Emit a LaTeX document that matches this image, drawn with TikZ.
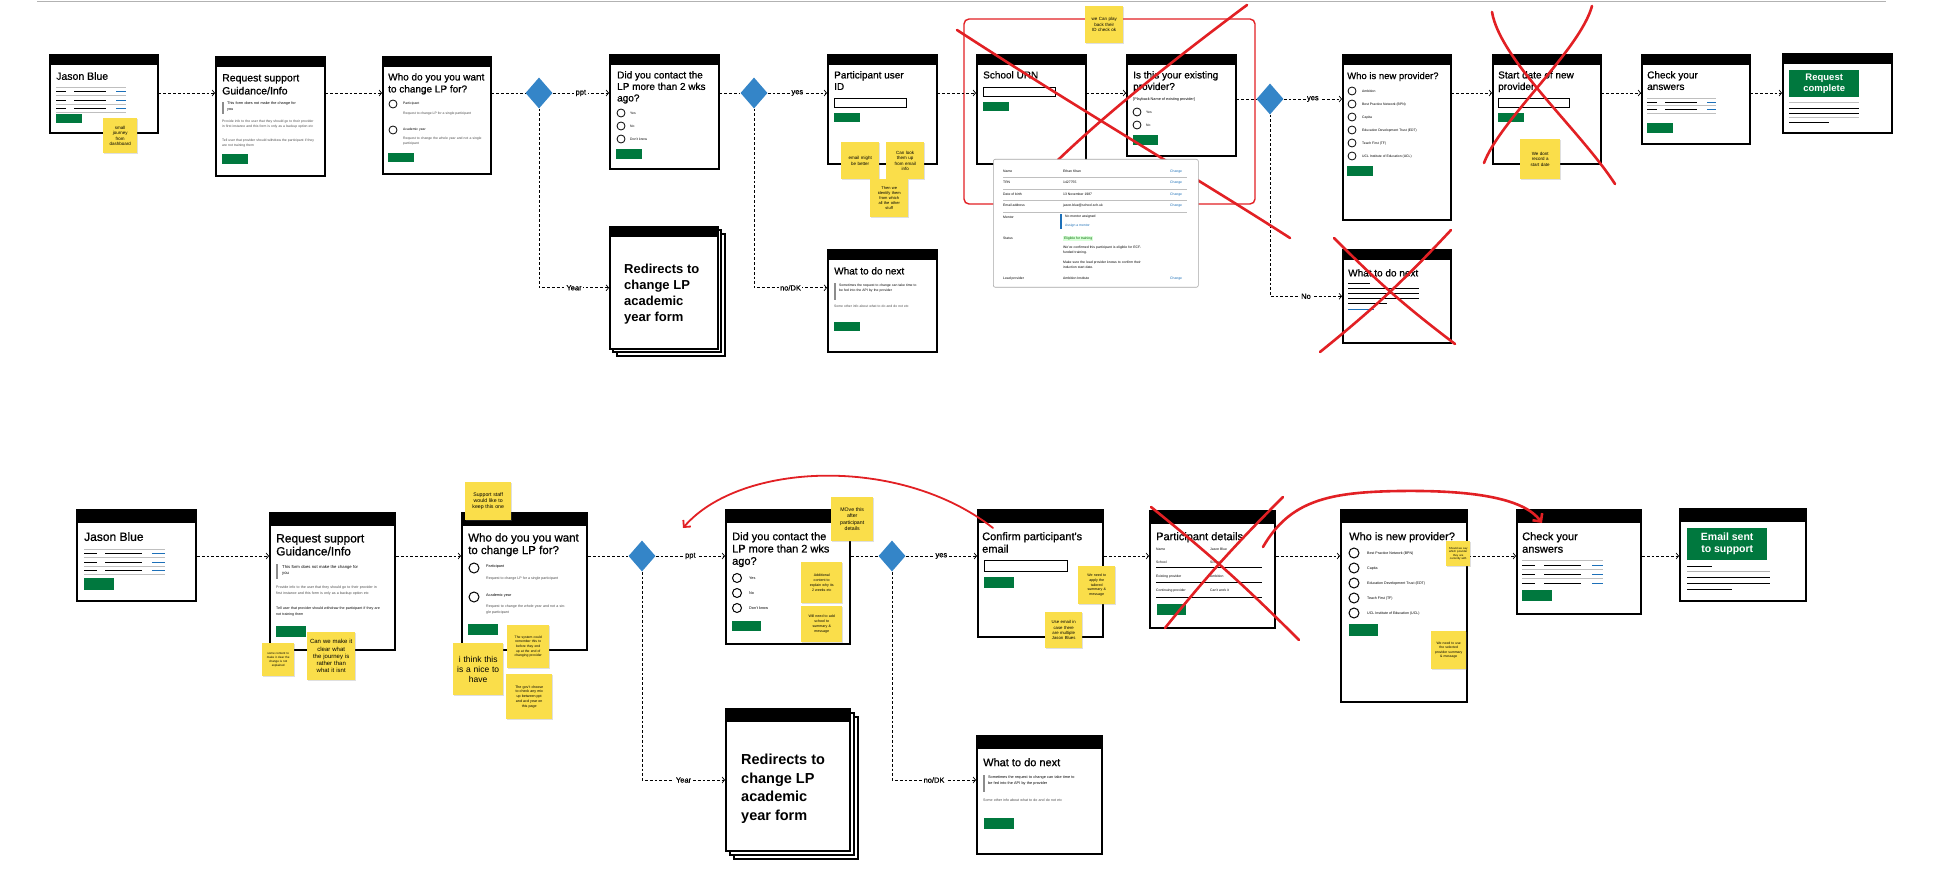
\documentclass[tikz,border=0pt]{standalone}
\usepackage{fontspec}
\setmainfont{Liberation Sans}
\newfontfamily\medfont{Liberation Sans}[FakeBold=0.8]
\usetikzlibrary{positioning,arrows.meta,shapes.geometric,shadows}

\definecolor{govgreen}{RGB}{0,120,62}
\definecolor{flowblue}{RGB}{52,133,200}
\definecolor{penred}{RGB}{226,32,36}
\definecolor{notey}{RGB}{250,222,74}
\definecolor{linkblue}{RGB}{29,112,184}

\begin{document}
\begin{tikzpicture}[
            x=1pt, y=-1pt,
            screen/.style={draw, line width=1.6pt, fill=white, anchor=north west, inner sep=0pt},
            heading/.style={anchor=north west, inner sep=0pt, align=left, font=\medfont\fontsize{10}{11.5}\selectfont},
            bighead/.style={heading, font=\medfont\fontsize{11.5}{12.5}\selectfont},
            fine/.style={anchor=north west, inner sep=0pt, align=left, text=black!70, font=\fontsize{3.4}{5}\selectfont},
            button/.style={fill=govgreen},
            choice/.style={line width=0.8pt},
            decision/.style={diamond, fill=flowblue, minimum width=27pt, minimum height=31pt, inner sep=0pt},
            sticky/.style={fill=notey, anchor=north west, inner sep=1pt, align=center,
                font=\fontsize{4}{5}\selectfont,
                drop shadow={opacity=0.25, shadow xshift=0.6pt, shadow yshift=-0.8pt}},
            route/.style={line width=0.7pt, dash pattern=on 2.8pt off 2pt, -{Straight Barb[length=2.5pt, width=6pt]}},
            tag/.style={fill=white, inner sep=1.5pt, font=\medfont\fontsize{7.5}{8}\selectfont},
            strike/.style={penred, line width=2.6pt, line cap=round}
        ]
        \fill[white] (0,0) rectangle (1933,893);
        \useasboundingbox (0,0) rectangle (1933,893);
        \draw[black!30, line width=0.8pt] (37,1) -- (1886,1);

        % Top flow: screens
        \node[screen, minimum width=108pt, minimum height=78pt] (jb1) at (49,54) {};
        \node[screen, minimum width=109pt, minimum height=119pt] (rs1) at (215,56) {};
        \node[screen, minimum width=108pt, minimum height=117pt] (wd1) at (382,56) {};
        \node[screen, minimum width=109pt, minimum height=114pt] (dc1) at (609,54) {};
        \foreach \d in {8,4}
            \filldraw[fill=white, line width=1.4pt] (609+\d,226+\d) rectangle ++(108,122);
        \node[screen, minimum width=108pt, minimum height=122pt] (rd1) at (609,226) {};
        \node[screen, minimum width=109pt, minimum height=109pt] (pu1) at (827,54) {};
        \node[screen, minimum width=109pt, minimum height=102pt] (wn1) at (827,249) {};
        \draw[penred, line width=1.4pt, rounded corners=5pt] (964,19) rectangle (1255,204);
        \node[screen, minimum width=109pt, minimum height=109pt] (su1) at (976,54) {};
        \node[screen, minimum width=109pt, minimum height=101pt] (ex1) at (1126,54) {};
        \node[screen, minimum width=108pt, minimum height=165pt] (np1) at (1342,54) {};
        \node[screen, minimum width=108pt, minimum height=93pt] (wx1) at (1342,249) {};
        \node[screen, minimum width=108pt, minimum height=109pt] (sd1) at (1492,54) {};
        \node[screen, minimum width=108pt, minimum height=89pt] (ca1) at (1641,54) {};
        \node[screen, minimum width=109pt, minimum height=79pt] (rc1) at (1782,53) {};

        % Bottom flow: screens
        \node[screen, line width=2pt, minimum width=119pt, minimum height=91pt] (jb2) at (76,509) {};
        \node[screen, line width=2pt, minimum width=125pt, minimum height=137pt] (rs2) at (269,512) {};
        \node[screen, line width=2pt, minimum width=125pt, minimum height=137pt] (wd2) at (461,512) {};
        \node[screen, line width=2pt, minimum width=124pt, minimum height=134pt] (dc2) at (725,509) {};
        \foreach \d in {9,5}
            \filldraw[fill=white, line width=1.6pt] (725+\d,708+\d) rectangle ++(124,142);
        \node[screen, line width=2pt, minimum width=124pt, minimum height=142pt] (rd2) at (725,708) {};
        \node[screen, line width=2pt, minimum width=125pt, minimum height=127pt] (ce2) at (977,509) {};
        \node[screen, line width=2pt, minimum width=125pt, minimum height=118pt] (wn2) at (976,735) {};
        \node[screen, line width=2pt, minimum width=125pt, minimum height=117pt] (pd2) at (1149,510) {};
        \node[screen, line width=2pt, minimum width=126pt, minimum height=192pt] (np2) at (1340,509) {};
        \node[screen, line width=2pt, minimum width=124pt, minimum height=104pt] (ca2) at (1516,509) {};
        \node[screen, line width=2pt, minimum width=126pt, minimum height=92pt] (es2) at (1679,508) {};

        % Header bars
        \foreach \n in {jb1,rs1,wd1,dc1,rd1,pu1,wn1,su1,ex1,np1,wx1,sd1,ca1,rc1}
            \fill (\n.north west) rectangle ([yshift=-11pt]\n.north east);
        \foreach \n in {jb2,rs2,wd2,dc2,rd2,ce2,wn2,pd2,np2,ca2,es2}
            \fill (\n.north west) rectangle ([yshift=-14pt]\n.north east);

        % Top flow: contents
        \node[heading, font=\medfont\fontsize{10.5}{12}\selectfont] (jb1t) at (56,72) {Jason Blue};
        \foreach \y in {91,100,108} {
            \draw[line width=0.9pt] (56,\y) -- (66,\y) (74,\y) -- (106,\y);
            \draw[linkblue, line width=0.9pt] (116,\y) -- (126,\y);
        }
        \foreach \y in {87,95,104,112} \draw[black!25, line width=0.5pt] (56,\y) -- (126,\y);
        \fill[button] (56,114) rectangle (82,123);

        \node[heading, font=\medfont\fontsize{10.5}{13}\selectfont] (rs1t) at (222,74) {Request support\\Guidance/Info};
        \fill[black!45] (222,102) rectangle (224,114);
        \node[fine, text width=70pt, font=\fontsize{3.8}{5.5}\selectfont, text=black] (rs1i) at (227,102) {This form does not make the change for you};
        \node[fine, text width=92pt] (rs1p) at (222,120) {Provide info to the user that they should go to their provider in first instance and this form is only as a backup option etc};
        \node[fine, text width=92pt] (rs1q) at (222,139) {Tell user that provider should withdraw the participant if they are not training them};
        \fill[button] (222,154) rectangle (248,164);

        \node[heading, font=\medfont\fontsize{10}{12}\selectfont] (wd1t) at (388,73) {Who do you you want\\to change LP for?};
        \foreach \y in {104,130} \draw[choice] (393,\y) circle (4pt);
        \node[fine, text=black] (wd1a) at (403,102) {Participant};
        \node[fine] (wd1b) at (403,112) {Request to change LP for a single participant};
        \node[fine, text=black] (wd1c) at (403,128) {Academic year};
        \node[fine, text width=80pt] (wd1d) at (403,137) {Request to change the whole year and not a single participant};
        \fill[button] (388,153) rectangle (414,162);

        \node[heading] (dc1t) at (617,71) {Did you contact the\\LP more than 2 wks\\ago?};
        \foreach \y/\opt in {113/Yes,126/No,139/Don't know} {
            \draw[choice] (621,\y) circle (4pt);
            \node[fine, text=black] (dc1\y) at (630,\y-1.5) {\opt};
        }
        \fill[button] (616,149) rectangle (642,159);

        \node[heading, font=\bfseries\fontsize{13}{16}\selectfont] (rd1t) at (624,264) {Redirects to\\change LP\\academic\\year form};

        \node[heading] (pu1t) at (834,71) {Participant user\\ID};
        \draw[line width=0.8pt] (834,98) rectangle (906,107);
        \fill[button] (834,113) rectangle (860,122);

        \node[heading] (wn1t) at (834,267) {What to do next};
        \fill[black!45] (834,283) rectangle (836,300);
        \node[fine, text width=80pt, text=black] (wn1i) at (839,284) {Sometimes the request to change can take time to be fed into the API by the provider};
        \node[fine, text width=95pt] (wn1p) at (834,305) {Some other info about what to do and do not etc};
        \fill[button] (834,322) rectangle (860,331);

        \node[heading] (su1t) at (983,71) {School URN};
        \draw[line width=0.8pt] (983,87) rectangle (1055,96);
        \fill[button] (983,102) rectangle (1009,111);

        \node[heading] (ex1t) at (1133,71) {Is this your existing\\provider?};
        \node[fine, text=black, font=\fontsize{3.8}{5}\selectfont] (ex1p) at (1133,98) {[Playback Name of existing provider]};
        \foreach \y/\opt in {112/Yes,125/No} {
            \draw[choice] (1137,\y) circle (4pt);
            \node[fine, text=black] (ex1\y) at (1146,\y-1.5) {\opt};
        }
        \fill[button] (1133,135) rectangle (1158,145);

        \node[heading, font=\medfont\fontsize{9.5}{11}\selectfont] (np1t) at (1347,72) {Who is new provider?};
        \foreach \y/\lp in {91/Ambition,104/{Best Practice Network (BPN)},117/Capita,130/{Education Development Trust (EDT)},143/{Teach First (TF)},156/{UCL Institute of Education (UCL)}} {
            \draw[choice] (1352,\y) circle (4pt);
            \node[fine, text=black] (np1\y) at (1362,\y-1.5) {\lp};
        }
        \fill[button] (1347,166) rectangle (1373,176);

        \node[heading] (wx1t) at (1348,269) {What to do next};
        \draw[line width=0.7pt] (1348,283) -- (1370,283);
        \foreach \y in {288,293,298} \draw[line width=0.7pt] (1348,\y) -- (1419,\y);
        \draw[line width=0.7pt] (1348,303) -- (1387,303);
        \draw[linkblue, line width=0.7pt] (1348,309) -- (1374,309);

        \node[heading] (sd1t) at (1498,71) {Start date of new\\provider};
        \draw[line width=0.8pt] (1498,98) rectangle (1569,107);
        \fill[button] (1498,113) rectangle (1524,122);

        \node[heading] (ca1t) at (1647,71) {Check your\\answers};
        \foreach \y in {98,105.5,113} \draw[black!25, line width=0.5pt] (1647,\y) -- (1716,\y);
        \foreach \y in {102,109} {
            \draw[line width=0.9pt] (1647,\y) -- (1657,\y) (1665,\y) -- (1697,\y);
            \draw[linkblue, line width=0.9pt] (1707,\y) -- (1716,\y);
        }
        \fill[button] (1647,123) rectangle (1673,133);

        \node[fill=govgreen, anchor=north west, minimum width=70pt, minimum height=27pt, inner sep=0pt, align=center,
            text=white, font=\bfseries\fontsize{9.5}{11}\selectfont] (rc1g) at (1789,70) {Request\\complete};
        \draw[black!25, line width=0.5pt] (1789,102) -- (1859,102) (1789,117) -- (1859,117);
        \draw[line width=0.8pt] (1789,108) -- (1859,108) (1789,113) -- (1859,113) (1789,122) -- (1829,122);

        % Bottom flow: contents
        \node[heading, font=\medfont\fontsize{12}{13}\selectfont] (jb2t) at (84,532) {Jason Blue};
        \foreach \y in {553,562,570} {
            \draw[line width=0.9pt] (84,\y) -- (97,\y) (105,\y) -- (142,\y);
            \draw[linkblue, line width=0.9pt] (152,\y) -- (165,\y);
        }
        \foreach \y in {549,557,566,574} \draw[black!25, line width=0.5pt] (84,\y) -- (165,\y);
        \fill[button] (84,578) rectangle (114,590);

        \node[bighead, font=\medfont\fontsize{12}{13}\selectfont] (rs2t) at (276,534) {Request support\\Guidance/Info};
        \fill[black!45] (276,564) rectangle (278,579);
        \node[fine, text width=80pt, font=\fontsize{4.2}{6}\selectfont, text=black] (rs2i) at (282,565) {This form does not make the change for you};
        \node[fine, text width=104pt, font=\fontsize{3.6}{5.4}\selectfont] (rs2p) at (276,586) {Provide info to the user that they should go to their provider in first instance and this form is only as a backup option etc};
        \node[fine, text width=104pt, font=\fontsize{3.6}{5.4}\selectfont, text=black] (rs2q) at (276,607) {Tell user that provider should withdraw the participant if they are not training them};
        \fill[button] (276,626) rectangle (306,637);

        \node[bighead] (wd2t) at (468,533) {Who do you you want\\to change LP for?};
        \foreach \y in {568,597} \draw[choice, line width=1pt] (474,\y) circle (5pt);
        \node[fine, text=black, font=\fontsize{3.8}{5}\selectfont] (wd2a) at (486,565) {Participant};
        \node[fine, font=\fontsize{3.6}{5}\selectfont] (wd2b) at (486,577) {Request to change LP for a single participant};
        \node[fine, text=black, font=\fontsize{3.8}{5}\selectfont] (wd2c) at (486,594) {Academic year};
        \node[fine, text width=82pt, font=\fontsize{3.6}{5.4}\selectfont] (wd2d) at (486,605) {Request to change the whole year and not a single participant};
        \fill[button] (468,624) rectangle (498,635);

        \node[bighead, font=\medfont\fontsize{11}{12.3}\selectfont] (dc2t) at (732,532) {Did you contact the\\LP more than 2 wks\\ago?};
        \foreach \y/\opt in {578/Yes,593/No,608/Don't know} {
            \draw[choice, line width=1pt] (737,\y) circle (4.5pt);
            \node[fine, text=black, font=\fontsize{3.8}{5}\selectfont] (dc2\y) at (749,\y-1.5) {\opt};
        }
        \fill[button] (732,621) rectangle (761,631);

        \node[heading, font=\bfseries\fontsize{14.5}{18.5}\selectfont] (rd2t) at (741,754) {Redirects to\\change LP\\academic\\year form};

        \node[bighead, font=\medfont\fontsize{11}{12.5}\selectfont] (ce2t) at (982,532) {Confirm participant's\\email};
        \draw[line width=1pt] (984,560) rectangle (1067,571);
        \fill[button] (984,577) rectangle (1014,588);

        \node[bighead, font=\medfont\fontsize{11}{12.5}\selectfont] (wn2t) at (983,758) {What to do next};
        \fill[black!45] (983,775) rectangle (985,792);
        \node[fine, text width=90pt, font=\fontsize{3.8}{5.5}\selectfont, text=black] (wn2i) at (988,776) {Sometimes the request to change can take time to be fed into the API by the provider};
        \node[fine, text width=105pt, font=\fontsize{3.6}{5.2}\selectfont] (wn2p) at (983,799) {Some other info about what to do and do not etc};
        \fill[button] (984,818) rectangle (1014,829);

        \node[bighead, font=\medfont\fontsize{11}{12.5}\selectfont] (pd2t) at (1156,532) {Participant details};
        \foreach \y/\k/\v in {548/Name/Jason Blue,561/School/School,575/Existing provider/Ambition,589/Continuing provider/Can't work it} {
            \node[fine, text=black] (pd2k\y) at (1156,\y) {\k};
            \node[fine, text=black] (pd2v\y) at (1210,\y) {\v};
        }
        \foreach \y in {567,582,597} \draw[line width=0.8pt] (1156,\y) -- (1262,\y);
        \fill[button] (1157,604) rectangle (1186,615);

        \node[bighead, font=\medfont\fontsize{11}{12.5}\selectfont] (np2t) at (1349,532) {Who is new provider?};
        \foreach \y/\lp in {553/{Best Practice Network (BPN)},568/Capita,583/{Education Development Trust (EDT)},598/{Teach First (TF)},613/{UCL Institute of Education (UCL)}} {
            \draw[choice, line width=1pt] (1354,\y) circle (5pt);
            \node[fine, text=black, font=\fontsize{3.6}{5}\selectfont] (np2\y) at (1367,\y-1.5) {\lp};
        }
        \fill[button] (1349,624) rectangle (1378,636);

        \node[bighead, font=\medfont\fontsize{11}{12.5}\selectfont] (ca2t) at (1522,532) {Check your\\answers};
        \foreach \y in {560,569,578} \draw[black!25, line width=0.6pt] (1522,\y) -- (1603,\y);
        \foreach \y in {565,574,583} {
            \draw[line width=1pt] (1522,\y) -- (1535,\y) (1544,\y) -- (1581,\y);
            \draw[linkblue, line width=1pt] (1592,\y) -- (1603,\y);
        }
        \fill[button] (1522,590) rectangle (1552,601);

        \node[fill=govgreen, anchor=north west, minimum width=80pt, minimum height=32pt, inner sep=0pt, align=center,
            text=white, font=\bfseries\fontsize{10.5}{12}\selectfont] (es2g) at (1687,528) {Email sent\\to support};
        \draw[line width=0.8pt] (1687,566) -- (1712,566) (1687,577) -- (1770,577) (1687,583) -- (1770,583) (1687,589) -- (1732,589);
        \draw[black!30, line width=0.6pt] (1687,571) -- (1770,571);

        % Decisions
        \node[decision] (d1) at (539,93) {};
        \node[decision] (d2) at (754,93) {};
        \node[decision] (d3) at (1270,99) {};
        \node[decision] (d4) at (642,556) {};
        \node[decision] (d5) at (892,556) {};

        % Connectors, top flow
        \coordinate (row1) at (0,93);
        \coordinate (row2) at (0,556);
        \draw[route] (jb1.east |- row1) -- (rs1.west |- row1);
        \draw[route] (rs1.east |- row1) -- (wd1.west |- row1);
        \draw[route, -] (wd1.east |- row1) -- (d1);
        \draw[route] (d1) -- node[tag]{ppt} (dc1.west |- row1);
        \draw[route, -] (dc1.east |- row1) -- (d2);
        \draw[route] (d2) -- node[tag]{yes} (pu1.west |- row1);
        \draw[route] (pu1.east |- row1) -- (su1.west |- row1);
        \draw[route] (su1.east |- row1) -- (ex1.west |- row1);
        \draw[route, -] (ex1.east |- d3) -- (d3);
        \draw[route] (d3) -- node[tag]{yes} (np1.west |- d3);
        \draw[route] (np1.east |- row1) -- (sd1.west |- row1);
        \draw[route] (sd1.east |- row1) -- (ca1.west |- row1);
        \draw[route] (ca1.east |- row1) -- (rc1.west |- row1);
        \draw[route] (d1) |- node[tag, pos=0.75]{Year} (rd1);
        \draw[route] (d2) |- node[tag, pos=0.75]{no/DK} (wn1.west |- rd1);
        \draw[route] (d3) |- node[tag, pos=0.75]{No} (wx1);

        % Connectors, bottom flow
        \draw[route] (jb2.east |- row2) -- (rs2.west |- row2);
        \draw[route] (rs2.east |- row2) -- (wd2.west |- row2);
        \draw[route, -] (wd2.east |- row2) -- (d4);
        \draw[route] (d4) -- node[tag]{ppt} (dc2.west |- row2);
        \draw[route, -] (dc2.east |- row2) -- (d5);
        \draw[route] (d5) -- node[tag]{yes} (ce2.west |- row2);
        \draw[route] (ce2.east |- row2) -- (pd2.west |- row2);
        \draw[route] (pd2.east |- row2) -- (np2.west |- row2);
        \draw[route] (np2.east |- row2) -- (ca2.west |- row2);
        \draw[route] (ca2.east |- row2) -- (es2.west |- row2);
        \draw[route] (d4) |- node[tag, pos=0.75]{Year} (rd2);
        \draw[route] (d5) |- node[tag, pos=0.75]{no/DK} (wn2.west |- rd2);

        % Sticky notes
        \node[sticky, text width=32pt, minimum height=35pt, font=\fontsize{4.5}{5.5}\selectfont] (n1) at (103,118) {small\\journey\\from\\dashboard};
        \node[sticky, text width=36pt, minimum height=37pt, font=\fontsize{4.5}{5.5}\selectfont] (n2) at (841,142) {email might\\be better};
        \node[sticky, text width=36pt, minimum height=37pt, font=\fontsize{4.5}{5.5}\selectfont] (n3) at (886,142) {Can look\\them up\\from email\\info};
        \node[sticky, text width=36pt, minimum height=38pt] (n4) at (870,179) {Then we\\identify them\\from which\\all the other\\stuff};
        \node[sticky, text width=36pt, minimum height=37pt, font=\fontsize{4.5}{5.5}\selectfont] (n5) at (1085,6) {we Can play\\back their\\ID check ok};
        \node[sticky, text width=38pt, minimum height=40pt, font=\fontsize{4.5}{5.5}\selectfont] (n6) at (1520,139) {We dont\\record a\\start date};
        \node[sticky, text width=30pt, minimum height=33pt, font=\fontsize{3}{4}\selectfont] (n7) at (262,643) {some content to\\make it clear the\\change is not\\explained};
        \node[sticky, text width=46pt, minimum height=48pt, font=\fontsize{6}{7.2}\selectfont] (n8) at (307,632) {Can we make it\\clear what\\the journey is\\rather than\\what it isnt};
        \node[sticky, text width=44pt, minimum height=38pt, font=\fontsize{5.2}{6.4}\selectfont] (n9) at (465,482) {Support staff\\would like to\\keep this one};
        \node[sticky, text width=40pt, minimum height=43pt, font=\fontsize{3.4}{4.6}\selectfont] (n10) at (507,625) {The system could\\remember this to\\before they end\\up at the end of\\changing provider};
        \node[sticky, text width=48pt, minimum height=52pt, font=\fontsize{8.5}{10}\selectfont] (n11) at (453,643) {i think this\\is a nice to\\have};
        \node[sticky, text width=44pt, minimum height=45pt, font=\fontsize{3.6}{4.8}\selectfont] (n12) at (506,674) {The gov't choose\\to check any mix\\up between ppt\\and acd year on\\this page};
        \node[sticky, text width=40pt, minimum height=44pt, font=\fontsize{5.2}{6.4}\selectfont] (n13) at (831,497) {MOve this\\after\\participant\\details};
        \node[sticky, text width=39pt, minimum height=41pt, font=\fontsize{3.6}{4.8}\selectfont] (n14) at (801,562) {Additional\\content to\\explain why its\\2 weeks etc};
        \node[sticky, text width=39pt, minimum height=36pt, font=\fontsize{3.6}{4.8}\selectfont] (n15) at (801,606) {Will need to add\\school to\\summary \&\\message};
        \node[sticky, text width=35pt, minimum height=38pt, font=\fontsize{3.6}{4.8}\selectfont] (n16) at (1078,566) {We need to\\apply the\\tailored\\summary \&\\message};
        \node[sticky, text width=35pt, minimum height=36pt, font=\fontsize{4.3}{5.4}\selectfont] (n17) at (1045,612) {Use email in\\case there\\are multiple\\Jason Blues};
        \node[sticky, text width=22pt, minimum height=25pt, font=\fontsize{2.8}{3.6}\selectfont] (n18) at (1446,541) {Should we say\\which provider\\they are\\currently with};
        \node[sticky, text width=33pt, minimum height=38pt, font=\fontsize{3.4}{4.6}\selectfont] (n19) at (1431,631) {We need to use\\the selected\\provider summary\\\& message};

        % Crossed out screens
        \draw[strike] (957,30) .. controls (1080,110) and (1200,180) .. (1290,238);
        \draw[strike] (1247,5) .. controls (1180,55) and (1110,110) .. (1058,160);
        \node[draw=black!35, line width=0.6pt, fill=white, rounded corners=2pt, anchor=north west,
            minimum width=205pt, minimum height=128pt, inner sep=0pt] (card) at (993,159) {};
        \foreach \y/\k/\v in {170/Name/Ethan Khan,181/TRN/1427755,193/Date of birth/13 November 1987,204/Email address/jason.blue@school.sch.uk,277/Lead provider/Ambition Institute} {
            \node[fine, text=black] (ck\y) at (1003,\y) {\k};
            \node[fine, text=black] (cv\y) at (1063,\y) {\v};
            \node[fine, text=linkblue] (cc\y) at (1170,\y) {Change};
        }
        \foreach \y in {177,189,200,212} \draw[black!25, line width=0.4pt] (1003,\y) -- (1187,\y);
        \node[fine, text=black] (ckm) at (1003,216) {Mentor};
        \fill[linkblue] (1060,214) rectangle (1061.5,229);
        \node[fine, text=black] (cvm) at (1065,215) {No mentor assigned};
        \node[fine, text=linkblue] (cvl) at (1065,224) {Assign a mentor};
        \node[fine, text=black] (cks) at (1003,237) {Status};
        \node[fine, fill=green!15, text=green!40!black, inner sep=1pt] (cvs) at (1063,236) {Eligible for training};
        \node[fine, text=black, text width=80pt] (cvt) at (1063,246) {We've confirmed this participant is eligible for ECF-funded training.};
        \node[fine, text=black, text width=80pt] (cvu) at (1063,261) {Make sure the lead provider knows to confirm their induction start date.};

        \draw[strike] (1334,238) to[bend right=4] (1455,344);
        \draw[strike] (1451,230) to[bend left=4] (1320,352);
        \draw[strike] (1492,12) .. controls (1500,60) and (1580,130) .. (1615,184);
        \draw[strike] (1592,6) .. controls (1580,50) and (1500,120) .. (1484,163);
        \draw[strike] (1151,507) to[bend left=3] (1299,640);
        \draw[strike] (1283,497) to[bend right=3] (1165,628);

        % Hand drawn moves
        \coordinate (earlier) at (683,528);
        \draw[strike, line width=1.8pt, -{Straight Barb[length=5pt, width=10pt]}]
            ([shift={(16pt,-19pt)}]ce2.north west) .. controls (900,455) and (740,462) .. (earlier);
        \draw[strike, -{Straight Barb[length=6pt, width=12pt]}]
            ([shift={(114pt,-37pt)}]pd2.north west) .. controls (1290,500) and (1330,492) .. (1400,491)
            .. controls (1480,490) and (1525,500) .. ([shift={(26pt,-14pt)}]ca2.north west);

        \end{tikzpicture}
\end{document}
